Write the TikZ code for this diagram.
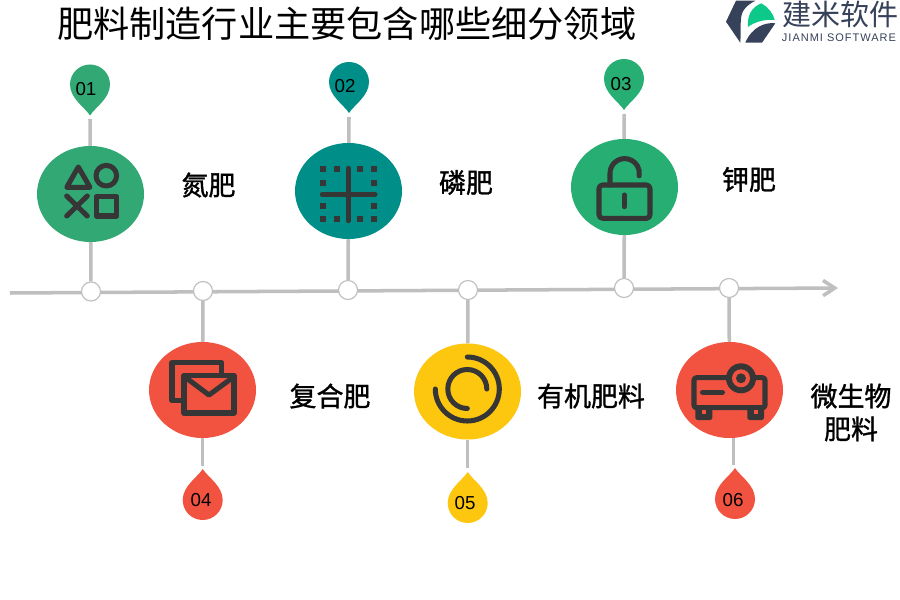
\documentclass[tikz,border=0pt]{standalone}
\usepackage{fontspec}
\usepackage{xcolor}
\usepackage{tikz}
\usetikzlibrary{arrows.meta,shapes.geometric}
\setmainfont{Liberation Sans}
\newfontfamily\cjk{Noto Sans CJK SC}
\newfontfamily\cjkheavy[FakeBold=1.2]{Noto Sans CJK SC}
\newfontfamily\brandlatin[LetterSpace=9]{Liberation Sans}
\definecolor{Grass}{HTML}{32A875}
\definecolor{Lagoon}{HTML}{008F88}
\definecolor{Jade}{HTML}{27AE72}
\definecolor{Coral}{HTML}{F25340}
\definecolor{Amber}{HTML}{FDC60F}
\definecolor{Rail}{HTML}{BFBFBF}
\definecolor{Glyph}{HTML}{363636}
\definecolor{Slate}{HTML}{36415A}
\definecolor{Mint}{HTML}{0CC98A}
\tikzset{
  bubble/.style={ellipse,minimum width=3.21cm,minimum height=2.88cm,inner sep=0pt},
  railknot/.style={circle,draw=Rail,fill=white,line width=1pt,minimum size=0.57cm,inner sep=0pt},
  stem/.style={Rail,line width=3pt},
  glyph/.style={Glyph,line width=4.3pt,line cap=round,line join=round},
  numtag/.style={font=\fontsize{16}{18}\selectfont},
  caption/.style={font=\cjkheavy\fontsize{23}{28}\selectfont,align=center},
  droppin/.pic={\fill[pic actions] (0,31) .. controls (5,23) and (20,14) .. (20,0) arc[start angle=0,end angle=-180,radius=20] .. controls (-20,14) and (-5,23) .. (0,31) -- cycle;}
}
\begin{document}
\begin{tikzpicture}[x=0.03cm,y=-0.03cm,>=Latex]
  \path[use as bounding box,fill=white] (0,0) rectangle (900,600);

  \node[anchor=west,font=\cjk\fontsize{30.9}{36}\selectfont] (headline) at (53,24) {肥料制造行业主要包含哪些细分领域};

  \fill[Slate] (736,0.7) -- (755.3,0.7) .. controls (745,6) and (741,12) .. (741,20) .. controls (740,28) and (741,35) .. (740.3,42.7) -- (726,21.7) -- cycle;
  \fill[Mint] (761.3,3.3) .. controls (768,7) and (773,13) .. (774.7,20) .. controls (765,19) and (754,22) .. (748,27) .. controls (747,15) and (752,7) .. (761.3,3.3) -- cycle;
  \fill[Slate] (745.3,42.7) -- (762,42.7) -- (775.3,23.3) .. controls (765,22) and (752,27) .. (745.3,42.7) -- cycle;
  \node[Slate,font=\cjk\fontsize{24.8}{28}\selectfont] (brandcn) at (840.5,14) {建米软件};
  \node[Slate,font=\brandlatin\fontsize{9.4}{11}\selectfont] (branden) at (839,37.5) {JIANMI SOFTWARE};

  \coordinate (railstart) at (10,293);
  \coordinate (railend) at (838,288);
  \draw[Rail,line width=3pt,-{Straight Barb[length=10pt,width=13pt,line width=3pt]}] (railstart) -- (railend);

  \node[railknot] (knot1) at (91,291.5) {};
  \node[railknot] (knot2) at (203,291) {};
  \node[railknot] (knot3) at (348,290) {};
  \node[railknot] (knot4) at (468,290) {};
  \node[railknot] (knot5) at (624,288) {};
  \node[railknot] (knot6) at (729,288) {};

  \node[bubble,fill=Grass] (nitro) at (90.5,194) {};
  \node[bubble,fill=Lagoon] (phos) at (348.5,191) {};
  \node[bubble,fill=Jade] (potash) at (624.5,187) {};
  \node[bubble,fill=Coral] (blend) at (202.5,390) {};
  \node[bubble,fill=Amber] (organic) at (467.5,391.5) {};
  \node[bubble,fill=Coral] (microbe) at (729.5,390) {};

  \coordinate (stem1) at (90,119);
  \coordinate (stem2) at (349,117);
  \coordinate (stem3) at (624,114);
  \coordinate (stem4) at (202.5,466);
  \coordinate (stem5) at (467.5,468);
  \coordinate (stem6) at (733.5,465);
  \draw[stem] (stem1) -- (nitro);
  \draw[stem] (stem2) -- (phos);
  \draw[stem] (stem3) -- (potash);
  \draw[stem] (stem4) -- (blend);
  \draw[stem] (stem5) -- (organic);
  \draw[stem] (stem6) -- (stem6 |- microbe.south);
  \draw[stem] (nitro) -- (knot1);
  \draw[stem] (phos) -- (knot3);
  \draw[stem] (potash) -- (knot5);
  \draw[stem] (blend) -- (knot2);
  \draw[stem] (organic) -- (knot4);
  \draw[stem] (microbe) -- (knot6);

  \pic[fill=Grass] at (90,84.5) {droppin};
  \pic[fill=Lagoon] at (349,82) {droppin};
  \pic[fill=Jade] at (624,79) {droppin};
  \pic[fill=Coral,yscale=-1] at (202.7,500) {droppin};
  \pic[fill=Amber,yscale=-1] at (467.7,503) {droppin};
  \pic[fill=Coral,yscale=-1] at (735,499) {droppin};
  \node[numtag] (tag1) at (86,89) {01};
  \node[numtag] (tag2) at (345,86) {02};
  \node[numtag] (tag3) at (621,84) {03};
  \node[numtag] (tag4) at (201,500) {04};
  \node[numtag] (tag5) at (465,503) {05};
  \node[numtag] (tag6) at (733,500) {06};

  \node[caption] (nitrotext) at (208.5,185) {氮肥};
  \node[caption] (phostext) at (466,182.5) {磷肥};
  \node[caption] (potashtext) at (749,179.5) {钾肥};
  \node[caption] (blendtext) at (330,396) {复合肥};
  \node[caption] (organictext) at (591,396) {有机肥料};
  \node[caption] (microbetext) at (851,412.5) {微生物\\肥料};

  \draw[glyph] (78.3,167) -- (66.7,187.3) -- (90,187.3) -- cycle;
  \draw[glyph] (106.3,175.7) circle[radius=10.3];
  \draw[glyph] (66.7,196) -- (87.3,216) (87.3,196) -- (66.7,216);
  \draw[glyph] (96.3,196.3) rectangle (116.7,216);

  \draw[glyph] (348.3,168.3) -- (348.3,220.7) (322.3,194.3) -- (375,194.3);
  \foreach \dotx in {323.3,336.7,360.3,373.7}
    \foreach \doty in {169.3,219.3}
      \fill[Glyph] (\dotx-3,\doty-3) rectangle (\dotx+3,\doty+3);
  \foreach \dotx in {323.3,373.7}
    \foreach \doty in {182.7,206}
      \fill[Glyph] (\dotx-3,\doty-3) rectangle (\dotx+3,\doty+3);

  \draw[glyph,rounded corners=3pt] (599,185) rectangle (650,218.3);
  \draw[glyph] (610,185) -- (610,173.3) arc[start angle=180,end angle=370,radius=14.7];
  \draw[glyph] (624.3,195) -- (624.3,206.7);

  \draw[glyph] (182,400.7) -- (172,400.7) -- (172,362.7) -- (221.7,362.7) -- (221.7,373.3);
  \draw[glyph] (184,375.3) rectangle (234,413);
  \draw[glyph] (186.7,378.3) -- (209,395) -- (231.7,378.3);

  \draw[glyph] (467.3,357) arc[start angle=270,end angle=540,radius=32];
  \draw[glyph] (486.8,389) arc[start angle=360,end angle=90,radius=19.5];

  \draw[glyph,rounded corners=2pt] (694,377.7) rectangle (765,407.7);
  \draw[glyph] (702.5,392.3) -- (722.5,392.3);
  \fill[Glyph,rounded corners=2pt] (695.3,405) rectangle (712.3,420);
  \fill[Glyph,rounded corners=2pt] (747.3,405) rectangle (764,420);
  \fill[Coral] (701.5,409.5) rectangle (706,414);
  \fill[Coral] (753.5,409.5) rectangle (758,414);
  \fill[Glyph] (741,378.3) circle[radius=15];
  \fill[Coral] (741,378.3) circle[radius=9];
  \fill[Glyph] (741,378.3) circle[radius=5];
\end{tikzpicture}
\end{document}
